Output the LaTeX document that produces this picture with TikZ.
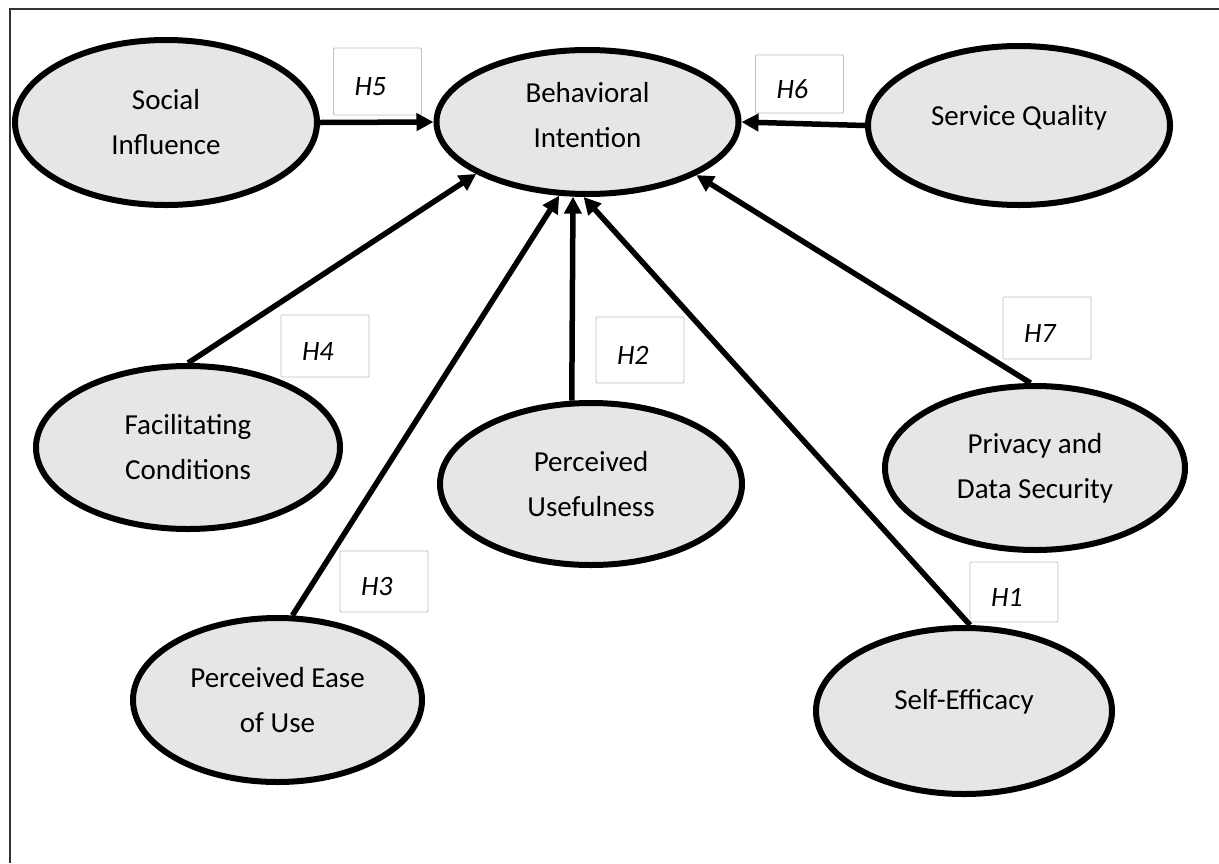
\documentclass[tikz,border=0pt]{standalone}
\usepackage{fontspec}
\setmainfont{Carlito}
\usetikzlibrary{arrows.meta,positioning,shapes.geometric}
\definecolor{ovalColor}{RGB}{230,230,230}
\definecolor{boxColor}{RGB}{191,191,191}
\definecolor{frameColor}{RGB}{50,50,50}
\newcommand{\ovalfont}{\fontsize{29}{45}\selectfont}
\newcommand{\hypfont}{\fontsize{28}{32}\selectfont\itshape}

\begin{document}
\begin{tikzpicture}[x=1pt, y=-1pt,
    construct/.style={draw, ellipse, line width=6pt, fill=ovalColor, inner sep=0pt, minimum width=302pt, minimum height=164pt, align=center, font=\ovalfont},
    hyp/.style={draw=boxColor, line width=0.8pt, fill=white, rounded corners=1pt, minimum height=63pt, text width=46pt, inner xsep=21pt, align=left, text height=28pt, text depth=0pt, font=\hypfont},
    arr/.style={-{Triangle[length=17pt,width=17pt]}, line width=5.5pt},
    frameline/.style={line width=2.5pt, frameColor}
  ]
  \useasboundingbox (0,0) rectangle (1219,863);
  \draw[frameline] (10,863) |- (1219,9);

  % constructs
  \node[construct, minimum height=144pt, text depth=15pt] (bi) at (587.5,122) {Behavioral\\Intention};
  \node[construct, minimum height=165pt] (si) at (166,122.5) {Social\\Influence};
  \node[construct, minimum height=159pt, text height=12pt, text depth=12pt] (sq) at (1019,125.5) {Service Quality};
  \node[construct, minimum width=304pt, minimum height=163pt] (fc) at (188,447.5) {Facilitating\\Conditions};
  \node[construct, minimum height=162pt] (pu) at (591,484) {Perceived\\Usefulness};
  \node[construct, minimum width=300pt] (pds) at (1035,468) {Privacy and\\Data Security};
  \node[construct, minimum width=289pt] (peu) at (277.5,700) {Perceived Ease\\of Use};
  \node[construct, minimum width=296pt, minimum height=166pt, text height=12pt, text depth=15.6pt] (se) at (964,711) {Self-Efficacy};

  % hypothesis labels
  \node[hyp, minimum height=67pt] (h5) at (377.5,81.5) {H5};
  \node[hyp, minimum height=58pt] (h6) at (799.5,84) {H6};
  \node[hyp, minimum height=62pt] (h4) at (325,346) {H4};
  \node[hyp, minimum height=66pt] (h2) at (640,350) {H2};
  \node[hyp, minimum height=62pt] (h7) at (1047,328) {H7};
  \node[hyp, minimum height=61pt] (h3) at (384,581.5) {H3};
  \node[hyp, minimum height=60pt] (h1) at (1014,592) {H1};

  % paths
  \draw[arr] (si.east) -- (bi.west);
  \draw[arr] (sq.west) -- (bi.east);
  \draw[arr] (fc.north) -- (bi.205);
  \draw[arr] (peu.80) -- (bi.249);
  \draw[arr] (pu.103) -- (bi.259);
  \draw[arr] (se.86) -- (bi.267);
  \draw[arr] (pds.93) -- (bi.334);
\end{tikzpicture}
\end{document}
